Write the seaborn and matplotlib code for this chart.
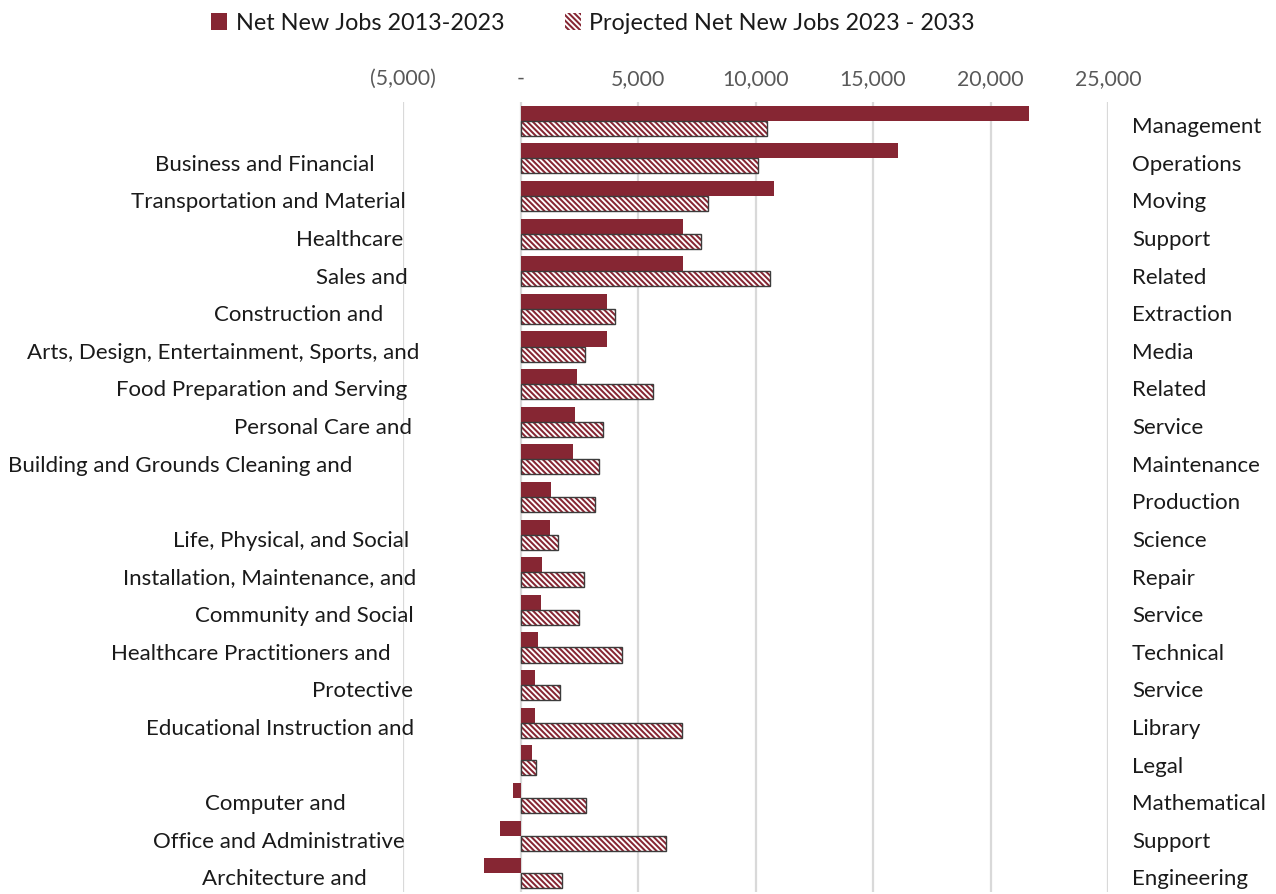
import matplotlib
matplotlib.use("Agg")
import matplotlib.pyplot as plt
import matplotlib.transforms as mtransforms
from matplotlib.patches import Patch, Rectangle
import pandas as pd
import seaborn as sns

# Occupation groups, split into the part shown left and right of the bars
left_labels = [
    "", "Business and Financial", "Transportation and Material", "Healthcare",
    "Sales and", "Construction and", "Arts, Design, Entertainment, Sports, and",
    "Food Preparation and Serving", "Personal Care and",
    "Building and Grounds Cleaning and", "", "Life, Physical, and Social",
    "Installation, Maintenance, and", "Community and Social",
    "Healthcare Practitioners and", "Protective", "Educational Instruction and",
    "", "Computer and", "Office and Administrative", "Architecture and",
]
right_labels = [
    "Management", "Operations", "Moving", "Support", "Related", "Extraction",
    "Media", "Related", "Service", "Maintenance", "Production", "Science",
    "Repair", "Service", "Technical", "Service", "Library", "Legal",
    "Mathematical", "Support", "Engineering",
]

net_2013_2023 = [
    21630, 16050, 10790, 6905, 6905, 3685, 3660, 2410, 2340, 2250, 1305,
    1262, 935, 893, 765, 638, 638, 510, -340, -893, -1573,
]
proj_2023_2033 = [
    10470, 10090, 7985, 7680, 10600, 4000, 2730, 5620, 3490, 3340, 3190,
    1580, 2700, 2490, 4330, 1690, 6860, 660, 2790, 6185, 1765,
]

series_names = ["Net New Jobs 2013-2023", "Projected Net New Jobs 2023 - 2033"]
tick_values = [-5000, 0, 5000, 10000, 15000, 20000, 25000]
tick_labels = ["(5,000)", "-", "5,000", "10,000", "15,000", "20,000", "25,000"]

# horizontal centres (figure pixels) of the left-hand label fragments
left_label_x = [
    0, 265, 268.5, 350, 361.5, 298.5, 223, 262, 323.5, 180.5, 0, 291.5,
    269.5, 304, 250.5, 362, 280, 0, 275.5, 279, 284.5,
]

RED = "#862633"
GRID = "#d9d9d9"
TEXT = "#1a1a1a"
TICK = "#595959"
W, H = 1276, 895

categories = [(l + " " + r).strip() for l, r in zip(left_labels, right_labels)]
df = pd.DataFrame({
    "category": categories * 2,
    "series": [series_names[0]] * len(categories) + [series_names[1]] * len(categories),
    "jobs": net_2013_2023 + proj_2023_2033,
})

sns.set_theme(style="white")
plt.rcParams["font.family"] = ["Lato", "DejaVu Sans"]
plt.rcParams["hatch.linewidth"] = 1.45

fig = plt.figure(figsize=(W / 100, H / 100), dpi=100)
ax = fig.add_axes([403 / W, 2 / H, 705 / W, 790 / H])

sns.barplot(
    data=df, y="category", x="jobs", hue="series", orient="h",
    order=categories, hue_order=series_names, palette=[RED, "white"],
    saturation=1, width=0.8, legend=False, ax=ax,
)

# solid bars for the past decade
for bar in ax.containers[0]:
    bar.set_linewidth(0)
    bar.set_facecolor(RED)

# fine diagonal stripes with a dark outline for the projection
hatch = "\\" * 6
for bar in ax.containers[1]:
    bar.set_facecolor("white")
    bar.set_edgecolor(RED)
    bar.set_hatch(hatch)
    bar.set_linewidth(0)
    ax.add_patch(Rectangle(
        (bar.get_x(), bar.get_y()), bar.get_width(), bar.get_height(),
        fill=False, edgecolor="#3c3c3c", linewidth=1.0, zorder=bar.get_zorder() + 0.1,
    ))

ax.set_xlim(-5000, 25000)
ax.set_ylim(len(categories) - 0.5, -0.5)
ax.set_xticks(tick_values)
ax.set_xticklabels(tick_labels)
ax.xaxis.tick_top()
ax.tick_params(axis="x", length=0, pad=10, labelsize=15.3, labelcolor=TICK)
ax.set_yticks([])
ax.set_xlabel("")
ax.set_ylabel("")
ax.grid(axis="x", color=GRID, linewidth=1.6)
ax.set_axisbelow(True)
for s in ax.spines.values():
    s.set_visible(False)

# category text on both sides of the plot
trans = mtransforms.blended_transform_factory(fig.transFigure, ax.transData)
for i, (lt, rt, lx) in enumerate(zip(left_labels, right_labels, left_label_x)):
    if lt:
        ax.text(lx / W, i + 0.14, lt, ha="center", va="center",
                fontsize=16, color=TEXT, transform=trans)
    ax.text(1132 / W, i + 0.14, rt, ha="left", va="center",
            fontsize=16, color=TEXT, transform=trans)

handles = [
    Patch(facecolor=RED, edgecolor="none"),
    Patch(facecolor="white", edgecolor=RED, hatch=hatch, linewidth=0),
]
fig.legend(
    handles, series_names, loc="center", bbox_to_anchor=(593 / W, 1 - 24 / H),
    ncol=2, frameon=False, fontsize=16.8, handlelength=0.7, handleheight=0.7,
    handletextpad=0.35, columnspacing=2.6, labelcolor=TEXT,
)

fig.savefig("out.png", dpi=100)
